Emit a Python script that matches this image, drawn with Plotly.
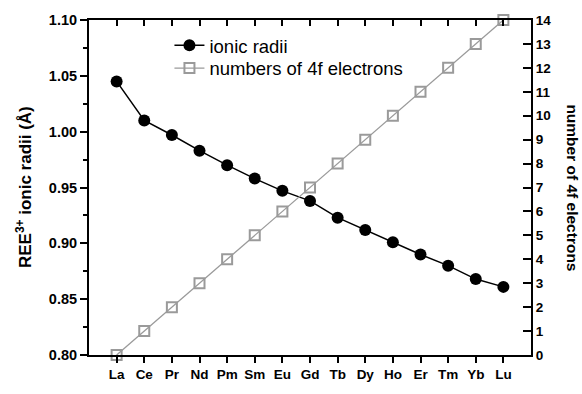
import plotly.graph_objects as go

categories = ["La", "Ce", "Pr", "Nd", "Pm", "Sm", "Eu", "Gd", "Tb", "Dy", "Ho", "Er", "Tm", "Yb", "Lu"]
ionic_radii = [1.045, 1.010, 0.997, 0.983, 0.970, 0.958, 0.947, 0.938, 0.923, 0.912, 0.901, 0.890, 0.880, 0.868, 0.861]
electrons_4f = [0, 1, 2, 3, 4, 5, 6, 7, 8, 9, 10, 11, 12, 13, 14]

xi = list(range(len(categories)))
font_family = "Liberation Sans, Arial, sans-serif"

fig = go.Figure()
fig.add_trace(go.Scatter(
    x=xi, y=electrons_4f, yaxis="y2", mode="lines+markers",
    name="numbers of 4f electrons",
    line=dict(color="#9a9a9a", width=1.3),
    marker=dict(symbol="square-open", size=10, color="#9a9a9a", line=dict(width=2, color="#9a9a9a")),
    legend="legend2", cliponaxis=False,
))
fig.add_trace(go.Scatter(
    x=xi, y=ionic_radii, mode="lines+markers", name="ionic radii",
    line=dict(color="black", width=1.5),
    marker=dict(symbol="circle", size=12, color="black"),
    legend="legend", cliponaxis=False,
))
# helper trace for top axis ticks
fig.add_trace(go.Scatter(x=xi, y=[None] * len(xi), xaxis="x2", showlegend=False, hoverinfo="skip"))

fig.update_layout(
    width=582, height=394,
    margin=dict(l=89, r=51, t=16, b=27),
    paper_bgcolor="white", plot_bgcolor="white",
    font=dict(family=font_family, color="black"),
    showlegend=True,
    xaxis=dict(
        range=[-1, 15], tickvals=xi, ticktext=categories,
        showline=True, linecolor="black", linewidth=2,
        ticks="outside", ticklen=6, tickwidth=1.5, tickcolor="black",
        tickfont=dict(size=13.5, family=font_family, weight="bold"),
        showgrid=False, zeroline=False,
    ),
    xaxis2=dict(
        range=[-1, 15], tickvals=xi, overlaying="x", side="top", anchor="y",
        showline=True, linecolor="black", linewidth=2,
        ticks="inside", ticklen=6, tickwidth=1.5, tickcolor="black",
        showticklabels=False, showgrid=False, zeroline=False,
    ),
    yaxis=dict(
        range=[0.80, 1.10], dtick=0.05, tickformat=".2f",
        showline=True, linecolor="black", linewidth=2,
        ticks="outside", ticklen=7, tickwidth=1.5, tickcolor="black",
        minor=dict(dtick=0.025, ticks="outside", ticklen=4, tickwidth=1.5, tickcolor="black"),
        tickfont=dict(size=14.5, family=font_family, weight="bold"),
        showgrid=False, zeroline=False,
    ),
    yaxis2=dict(
        range=[0, 14], dtick=1, overlaying="y", side="right",
        showline=True, linecolor="black", linewidth=2,
        ticks="inside", ticklen=8, tickwidth=1.5, tickcolor="black",
        tickfont=dict(size=13.5, family=font_family, weight="bold"),
        showgrid=False, zeroline=False,
    ),
    legend=dict(x=0.182, y=0.923, xanchor="left", yanchor="middle",
                font=dict(size=18.5, family=font_family), bgcolor="rgba(0,0,0,0)"),
    legend2=dict(x=0.182, y=0.855, xanchor="left", yanchor="middle",
                 font=dict(size=18.5, family=font_family), bgcolor="rgba(0,0,0,0)"),
    annotations=[
        dict(
            text="REE<sup>3+</sup> ionic radii (Å)", textangle=-90, xref="paper", yref="paper",
            x=-0.148, y=0.5, xanchor="center", yanchor="middle", showarrow=False,
            font=dict(size=17, family=font_family, weight="bold"),
        ),
        dict(
            text="number of 4f electrons", textangle=90, xref="paper", yref="paper",
            x=1.093, y=0.5, xanchor="center", yanchor="middle", showarrow=False,
            font=dict(size=15.5, family=font_family, weight="bold"),
        ),
    ],
)

fig.write_html("out.html")
